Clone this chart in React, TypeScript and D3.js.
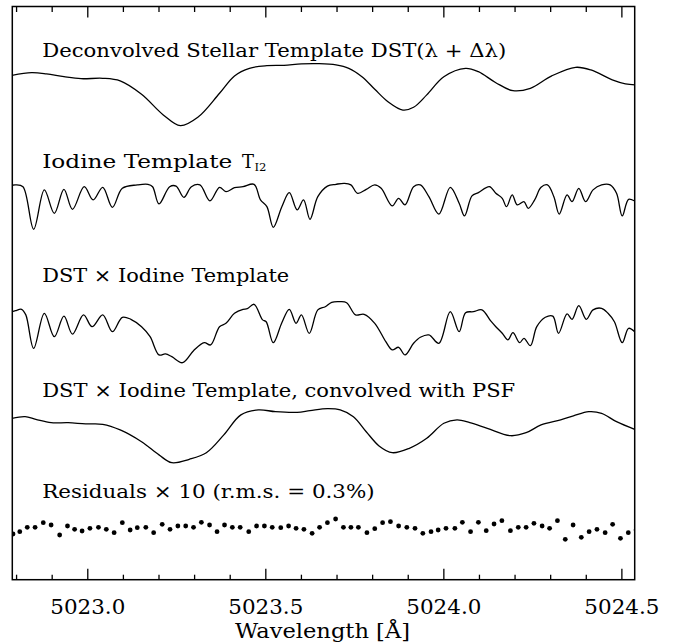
import React from "react";
import * as d3 from "d3";

// ---------- data ----------
const dstWave = [5022.787, 5022.842, 5022.884, 5022.933, 5022.981, 5023.042, 5023.091, 5023.151, 5023.212, 5023.26, 5023.309, 5023.37, 5023.412, 5023.454, 5023.503, 5023.551, 5023.6, 5023.649, 5023.697, 5023.733, 5023.77, 5023.806, 5023.843, 5023.885, 5023.915, 5023.952, 5024.0, 5024.061, 5024.097, 5024.146, 5024.194, 5024.243, 5024.303, 5024.37, 5024.413, 5024.473, 5024.51, 5024.54];
const dstFlux = [0.932, 0.945, 0.939, 0.925, 0.915, 0.917, 0.904, 0.837, 0.734, 0.68, 0.722, 0.842, 0.929, 0.967, 0.98, 0.982, 0.989, 0.99, 0.984, 0.967, 0.925, 0.862, 0.8, 0.758, 0.772, 0.834, 0.925, 0.967, 0.95, 0.895, 0.855, 0.867, 0.929, 0.972, 0.959, 0.909, 0.889, 0.884];

const iodineWave = [5022.787, 5022.797, 5022.818, 5022.848, 5022.878, 5022.906, 5022.933, 5022.957, 5022.99, 5023.015, 5023.042, 5023.069, 5023.097, 5023.139, 5023.169, 5023.182, 5023.2, 5023.23, 5023.248, 5023.27, 5023.291, 5023.315, 5023.343, 5023.37, 5023.388, 5023.412, 5023.436, 5023.467, 5023.485, 5023.503, 5023.521, 5023.545, 5023.566, 5023.588, 5023.606, 5023.624, 5023.646, 5023.673, 5023.697, 5023.721, 5023.739, 5023.758, 5023.782, 5023.806, 5023.824, 5023.855, 5023.873, 5023.891, 5023.915, 5023.934, 5023.958, 5023.986, 5024.018, 5024.043, 5024.058, 5024.079, 5024.097, 5024.128, 5024.146, 5024.164, 5024.176, 5024.192, 5024.206, 5024.225, 5024.237, 5024.255, 5024.273, 5024.291, 5024.309, 5024.324, 5024.346, 5024.36, 5024.379, 5024.398, 5024.419, 5024.443, 5024.467, 5024.485, 5024.501, 5024.519, 5024.54];
const iodineFlux = [0.982, 0.984, 0.975, 0.762, 0.959, 0.842, 0.962, 0.862, 0.975, 0.909, 0.972, 0.872, 0.967, 0.984, 0.987, 0.975, 0.889, 0.975, 0.978, 0.922, 0.975, 0.984, 0.904, 0.972, 0.95, 0.97, 0.975, 0.987, 0.909, 0.875, 0.772, 0.875, 0.945, 0.859, 0.909, 0.812, 0.925, 0.978, 0.987, 0.992, 0.984, 0.942, 0.962, 0.984, 0.967, 0.879, 0.917, 0.884, 0.975, 0.984, 0.925, 0.838, 0.972, 0.892, 0.829, 0.929, 0.945, 0.975, 0.942, 0.917, 0.875, 0.934, 0.884, 0.9, 0.867, 0.909, 0.972, 0.984, 0.925, 0.838, 0.934, 0.9, 0.967, 0.9, 0.959, 0.984, 0.984, 0.942, 0.829, 0.912, 0.9];

const productWave = [5022.787, 5022.797, 5022.814, 5022.826, 5022.848, 5022.878, 5022.906, 5022.933, 5022.957, 5022.988, 5023.012, 5023.042, 5023.069, 5023.097, 5023.121, 5023.151, 5023.175, 5023.2, 5023.218, 5023.236, 5023.266, 5023.297, 5023.327, 5023.345, 5023.37, 5023.388, 5023.412, 5023.436, 5023.448, 5023.467, 5023.491, 5023.501, 5023.521, 5023.545, 5023.566, 5023.585, 5023.6, 5023.622, 5023.646, 5023.667, 5023.685, 5023.709, 5023.727, 5023.752, 5023.776, 5023.806, 5023.837, 5023.855, 5023.873, 5023.891, 5023.915, 5023.934, 5023.958, 5023.986, 5024.018, 5024.043, 5024.061, 5024.083, 5024.107, 5024.131, 5024.146, 5024.164, 5024.18, 5024.194, 5024.213, 5024.225, 5024.243, 5024.261, 5024.285, 5024.306, 5024.322, 5024.346, 5024.36, 5024.379, 5024.4, 5024.419, 5024.443, 5024.461, 5024.479, 5024.501, 5024.519, 5024.54];
const productFlux = [0.94, 0.945, 0.952, 0.924, 0.757, 0.932, 0.815, 0.918, 0.828, 0.924, 0.865, 0.924, 0.84, 0.912, 0.902, 0.865, 0.815, 0.724, 0.729, 0.715, 0.685, 0.745, 0.785, 0.774, 0.865, 0.882, 0.932, 0.952, 0.955, 0.977, 0.899, 0.89, 0.785, 0.885, 0.952, 0.882, 0.924, 0.832, 0.949, 0.965, 0.987, 0.99, 0.985, 0.924, 0.927, 0.882, 0.79, 0.749, 0.762, 0.724, 0.782, 0.812, 0.824, 0.782, 0.94, 0.84, 0.935, 0.94, 0.949, 0.895, 0.865, 0.832, 0.799, 0.835, 0.785, 0.807, 0.77, 0.865, 0.912, 0.918, 0.832, 0.929, 0.902, 0.97, 0.902, 0.949, 0.957, 0.932, 0.89, 0.785, 0.857, 0.832];

const convWave = [5022.787, 5022.824, 5022.854, 5022.897, 5022.945, 5022.994, 5023.042, 5023.091, 5023.151, 5023.2, 5023.236, 5023.285, 5023.333, 5023.382, 5023.43, 5023.479, 5023.527, 5023.588, 5023.624, 5023.673, 5023.709, 5023.746, 5023.782, 5023.818, 5023.855, 5023.903, 5023.952, 5024.0, 5024.037, 5024.073, 5024.122, 5024.188, 5024.231, 5024.273, 5024.328, 5024.364, 5024.407, 5024.443, 5024.485, 5024.54];
const convFlux = [0.937, 0.945, 0.932, 0.915, 0.915, 0.909, 0.907, 0.879, 0.82, 0.754, 0.715, 0.732, 0.765, 0.854, 0.954, 0.979, 0.97, 0.967, 0.975, 0.985, 0.979, 0.945, 0.87, 0.799, 0.765, 0.787, 0.837, 0.912, 0.929, 0.915, 0.887, 0.85, 0.865, 0.904, 0.929, 0.949, 0.97, 0.962, 0.92, 0.879];

const residWave = [5022.79, 5022.809, 5022.83, 5022.852, 5022.875, 5022.897, 5022.921, 5022.943, 5022.963, 5022.984, 5023.006, 5023.03, 5023.052, 5023.074, 5023.097, 5023.119, 5023.139, 5023.163, 5023.185, 5023.209, 5023.231, 5023.253, 5023.275, 5023.297, 5023.319, 5023.342, 5023.363, 5023.384, 5023.406, 5023.428, 5023.452, 5023.474, 5023.496, 5023.518, 5023.542, 5023.564, 5023.585, 5023.607, 5023.63, 5023.651, 5023.673, 5023.696, 5023.718, 5023.739, 5023.76, 5023.784, 5023.806, 5023.828, 5023.85, 5023.873, 5023.896, 5023.919, 5023.941, 5023.964, 5023.984, 5024.006, 5024.031, 5024.052, 5024.075, 5024.097, 5024.119, 5024.141, 5024.163, 5024.187, 5024.209, 5024.231, 5024.253, 5024.276, 5024.297, 5024.319, 5024.341, 5024.363, 5024.386, 5024.408, 5024.43, 5024.453, 5024.474, 5024.496, 5024.518, 5024.54];
const residPct = [-0.315, -0.198, 0.018, 0.018, 0.252, 0.135, -0.365, 0.085, -0.082, -0.165, -0.032, 0.018, -0.082, -0.248, 0.252, -0.115, 0.002, 0.018, -0.248, 0.168, -0.082, 0.085, 0.085, 0.018, 0.268, 0.135, -0.198, 0.135, 0.018, 0.018, -0.198, 0.085, 0.085, 0.018, 0.002, 0.085, -0.032, -0.082, -0.282, 0.018, 0.252, 0.435, 0.018, 0.018, 0.018, -0.248, -0.048, 0.252, 0.302, 0.085, 0.018, -0.032, -0.282, -0.198, -0.115, -0.032, -0.032, 0.268, -0.198, 0.268, -0.148, 0.185, 0.352, -0.148, 0.018, 0.018, 0.218, 0.085, -0.032, 0.352, -0.582, 0.135, -0.482, -0.198, -0.082, -0.248, 0.168, -0.532, -0.248, -0.115];

const panelOffsets = [1.59, 0.99, 0.4, -0.13];
const residOffset = 0.26;
const residMagnify = 10;

const panelLabels = [
  "Deconvolved Stellar Template DST(\u03bb + \u0394\u03bb)",
  "Iodine Template",
  "DST \u00d7 Iodine Template",
  "DST \u00d7 Iodine Template, convolved with PSF",
  "Residuals \u00d7 10 (r.m.s. = 0.3%)",
];
const iodineSymbol = "T";
const iodineSub = "I2";
const majorTicks = [5023.0, 5023.5, 5024.0, 5024.5];
const minorTicks = [5022.8, 5022.9, 5023.1, 5023.2, 5023.3, 5023.4, 5023.6, 5023.7, 5023.8, 5023.9, 5024.1, 5024.2, 5024.3, 5024.4];
const xTitle = "Wavelength [\u00c5]";

// ---------- layout ----------
const W = 674;
const H = 644;
const L = 12.3, R = 634.7, T = 6.5, B = 579.7;
const FONT = "'DejaVu Serif', serif";

export default function App() {
  const x = d3.scaleLinear().domain([5022.788, 5024.536]).range([L, R]);
  const y = d3.scaleLinear().domain([0, 2.866]).range([B, T]);

  const line = (wave: number[], flux: number[], off: number) =>
    d3
      .line<number>()
      .x((_, i) => x(wave[i]))
      .y((f) => y(f + off))
      .curve(d3.curveCatmullRom.alpha(0.5))(flux) as string;

  const series = [
    { w: dstWave, f: dstFlux },
    { w: iodineWave, f: iodineFlux },
    { w: productWave, f: productFlux },
    { w: convWave, f: convFlux },
  ];

  const labelPos = [
    { y: 57, len: 464 },
    { y: 168, len: 190 },
    { y: 281.5, len: 247 },
    { y: 396.5, len: 473 },
    { y: 498, len: 332.5 },
  ];

  return (
    <svg
      width={W}
      height={H}
      style={{ position: "absolute", left: 0, top: 0, background: "#fff" }}
    >
      <defs>
        <clipPath id="frame">
          <rect x={L} y={T} width={R - L} height={B - T} />
        </clipPath>
      </defs>
      <rect width={W} height={H} fill="#fff" />
      <g clipPath="url(#frame)">
        {series.map((s, i) => (
          <path
            key={i}
            d={line(s.w, s.f, panelOffsets[i])}
            fill="none"
            stroke="#000"
            strokeWidth={1.3}
          />
        ))}
        {residPct.map((r, i) => (
          <circle
            key={i}
            cx={x(residWave[i])}
            cy={y(residOffset + (residMagnify * r) / 100)}
            r={2.4}
            fill="#000"
          />
        ))}
      </g>
      {/* frame */}
      <rect x={L} y={T} width={R - L} height={B - T} fill="none" stroke="#000" strokeWidth={1.5} />
      {/* ticks */}
      {majorTicks.map((t) => (
        <g key={"M" + t}>
          <line x1={x(t)} x2={x(t)} y1={B} y2={B - 11} stroke="#000" strokeWidth={1.3} />
          <line x1={x(t)} x2={x(t)} y1={T} y2={T + 11} stroke="#000" strokeWidth={1.3} />
          <text
            x={x(t)}
            y={613.5}
            textAnchor="middle"
            fontFamily={FONT}
            fontSize={20}
            fill="#000"
            textLength={75}
            lengthAdjust="spacingAndGlyphs"
          >
            {d3.format(".1f")(t)}
          </text>
        </g>
      ))}
      {minorTicks.map((t) => (
        <g key={"m" + t}>
          <line x1={x(t)} x2={x(t)} y1={B} y2={B - 5} stroke="#000" strokeWidth={1.3} />
          <line x1={x(t)} x2={x(t)} y1={T} y2={T + 5.5} stroke="#000" strokeWidth={1.3} />
        </g>
      ))}
      {/* panel labels */}
      {panelLabels.map((lab, i) => (
        <text
          key={i}
          x={42.2}
          y={labelPos[i].y}
          fontFamily={FONT}
          fontSize={18}
          fill="#000"
          textLength={labelPos[i].len}
          lengthAdjust="spacingAndGlyphs"
        >
          {lab}
        </text>
      ))}
      <text x={242} y={labelPos[1].y} fontFamily={FONT} fontSize={18} fill="#000" textLength={12} lengthAdjust="spacingAndGlyphs">
        {iodineSymbol}
      </text>
      <text x={254.5} y={labelPos[1].y + 3} fontFamily={FONT} fontSize={11} fill="#000" textLength={12} lengthAdjust="spacingAndGlyphs">
        {iodineSub}
      </text>
      <text
        x={322.5}
        y={638}
        textAnchor="middle"
        fontFamily={FONT}
        fontSize={20}
        fill="#000"
        textLength={175}
        lengthAdjust="spacingAndGlyphs"
      >
        {xTitle}
      </text>
    </svg>
  );
}
